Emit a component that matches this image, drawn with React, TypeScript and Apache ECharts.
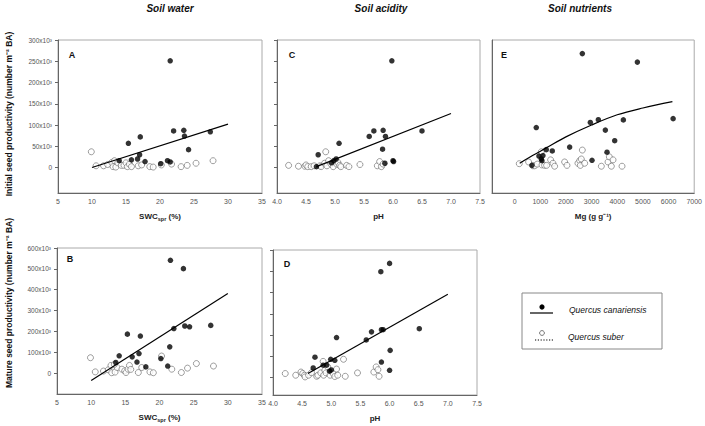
import React, { useEffect, useRef } from "react";
import * as echarts from "echarts";

// Panel A: initial seed productivity vs SWC_spr
const aFilled: number[][] = [[21.5,251],[15.35,57],[17.1,72],[22.0,86],[23.5,87.5],[23.6,74],[27.4,84],[24.2,42],[17.0,30],[16.7,20],[15.8,18],[17.8,14],[14.0,16],[21.1,16],[21.5,13],[20.1,9]];
const aOpen: number[][] = [[9.9,37],[10.6,4],[11.7,4],[12.3,7],[12.9,12],[13.1,2],[13.5,1],[13.3,16],[13.8,11],[14.3,5],[14.7,5],[15.0,11],[15.2,2],[15.5,8],[15.8,2],[16.8,4],[17.3,6],[18.5,2],[19.0,1],[20.2,6],[21.7,8],[23.1,2],[24.0,5],[25.3,10],[27.8,16]];
const aFit: number[][] = [[10,0],[30,102]];

// Panel C: initial seed productivity vs pH
const cFilled: number[][] = [[5.98,251],[5.07,57],[5.59,73],[5.67,86],[5.83,87.5],[5.87,73],[6.5,86],[5.82,43],[4.71,30],[6.0,16],[6.01,14],[5.86,10],[4.68,2],[4.94,11],[4.98,16],[5.02,20]];
const cOpen: number[][] = [[4.2,5],[4.37,3],[4.48,3],[4.5,6],[4.53,2],[4.59,2],[4.64,4],[4.74,4],[4.76,2],[4.82,10],[4.84,37],[4.86,4],[4.89,16],[4.93,8],[4.97,2],[5.03,8],[5.05,12],[5.08,5],[5.1,2],[5.2,5],[5.24,2],[5.43,7],[5.73,4],[5.77,14],[5.8,2],[5.83,8]];
const cFit: number[][] = [[4.68,2],[7.0,127]];

// Panel E: initial seed productivity vs Mg
const eFilled: number[][] = [[2640,268],[4785,248],[845,94],[2952,106],[3264,112.5],[4239,112],[6177,115],[3537,88],[3901,63],[2146,48],[1235,42],[1469,39],[3602,36],[949,27],[1105,28],[1040,20],[1066,16],[3017,17],[676,5]];
const eOpen: number[][] = [[182,9],[546,13],[715,4],[780,4],[884,8],[1040,37],[1066,6],[1170,5],[1248,5],[1404,18],[1495,10],[1560,3],[1950,13],[2041,5],[2470,10],[2536,16],[2562,5],[2600,20],[2640,41],[2731,10],[3381,3],[3641,13],[3693,25],[3836,18],[3771,3],[4187,3]];
const eFit: number[][] = [[200,10],[700,28],[1200,45],[2000,72],[3000,100],[4000,124],[5000,140],[6150,155]];

// Panel B: mature seed productivity vs SWC_spr
const bFilled: number[][] = [[21.6,541],[23.5,501],[15.3,187],[17.2,178],[22.1,214],[23.7,226],[24.4,222],[27.5,229],[21.5,126],[14.1,83],[16.0,78],[17.0,94],[13.6,51],[16.7,53],[18.0,30],[20.2,70],[21.2,34]];
const bOpen: number[][] = [[9.9,74],[10.6,6],[11.8,10],[12.5,16],[12.9,37],[13.0,2],[13.5,5],[13.8,27],[13.4,42],[14.5,19],[14.9,11],[15.1,3],[15.4,19],[15.6,37],[15.8,18],[16.9,3],[17.4,27],[18.6,6],[19.1,2],[20.3,82],[21.8,19],[23.2,3],[24.1,24],[25.4,46],[27.9,34]];
const bFit: number[][] = [[10,-35],[30,382]];

// Panel D: mature seed productivity vs pH
const dFilled: number[][] = [[6.0,537],[5.85,498],[6.51,230],[5.86,225],[5.89,225],[5.69,215],[5.6,177],[5.09,188],[6.01,128],[5.86,73],[6.0,34],[4.72,96],[4.69,45],[4.86,58],[4.92,58],[4.99,86],[5.06,81],[4.97,30],[5.0,36]];
const dOpen: number[][] = [[4.21,19],[4.39,11],[4.48,26],[4.51,19],[4.54,11],[4.55,3],[4.61,11],[4.66,23],[4.75,6],[4.77,11],[4.82,22],[4.86,76],[4.87,11],[4.89,34],[4.91,22],[4.94,50],[4.98,11],[5.03,19],[5.06,5],[5.09,40],[5.11,11],[5.21,86],[5.24,6],[5.45,22],[5.73,26],[5.77,50],[5.8,37],[5.82,6]];
const dFit: number[][] = [[4.6,19],[7.0,392]];

const yTicksTop = [0, 50, 100, 150, 200, 250, 300];
const yTicksBottom = [0, 100, 200, 300, 400, 500, 600];
const mgTicks = [0, 1000, 2000, 3000, 4000, 5000, 6000, 7000];

const FONT = '"Liberation Sans", Arial, sans-serif';
const AXIS_COLOR = "#666";
const LABEL_COLOR = "#555";

export default function App() {
  const ref = useRef<HTMLDivElement>(null);
  useEffect(() => {
    const chart = echarts.init(ref.current!, null, { renderer: "svg" });

    const grids = [
      { left: 58, top: 40, width: 204, height: 153 },  // A
      { left: 277, top: 40, width: 203, height: 153 }, // C
      { left: 492, top: 40, width: 205, height: 153 }, // E
      { left: 57, top: 248, width: 205, height: 146 }, // B
      { left: 273, top: 250, width: 204, height: 145 }, // D
    ].map((g) => ({ ...g, show: true, borderColor: "#aaa", borderWidth: 1, backgroundColor: "transparent" }));

    const subRich = {
      b: { fontWeight: "bold", fontSize: 8, fontFamily: FONT, color: "#222", lineHeight: 10, verticalAlign: "top" },
      s: { fontWeight: "bold", fontSize: 5.5, fontFamily: FONT, color: "#222", lineHeight: 4, verticalAlign: "bottom" },
    };

    const xAxis = (gridIndex: number, min: number, max: number, opts: any, name: string) => ({
      type: "value",
      gridIndex,
      min,
      max,
      ...opts,
      name,
      nameLocation: "middle",
      nameGap: 19,
      nameTextStyle: { fontWeight: "bold", fontSize: 8, fontFamily: FONT, color: "#222", rich: subRich },
      axisLine: { show: true, onZero: false, lineStyle: { color: AXIS_COLOR, width: 1 } },
      axisTick: { show: false },
      axisLabel: { ...(opts.axisLabel || {}), fontSize: 7, color: LABEL_COLOR, fontFamily: FONT, margin: 5, showMinLabel: true, showMaxLabel: true },
      splitLine: { show: false },
    });

    const yAxis = (gridIndex: number, min: number, max: number, ticks: number[], showLabels: boolean, showTicks: boolean) => ({
      type: "value",
      gridIndex,
      min,
      max,
      axisLine: { show: true, onZero: false, lineStyle: { color: AXIS_COLOR, width: 1 } },
      axisTick: { show: showTicks, customValues: ticks, length: 3, lineStyle: { color: AXIS_COLOR } },
      axisLabel: {
        show: showLabels,
        customValues: ticks,
        fontSize: 6.5,
        color: LABEL_COLOR,
        fontFamily: FONT,
        margin: 6,
        formatter: (v: number) => (v === 0 ? "0" : `${v}x10³`),
      },
      splitLine: { show: false },
    });

    const scatterFilled = (i: number, data: number[][]) => ({
      type: "scatter", xAxisIndex: i, yAxisIndex: i, data, symbol: "circle", symbolSize: 5.5,
      itemStyle: { color: "#000" }, z: 4,
    });
    const scatterOpen = (i: number, data: number[][]) => ({
      type: "scatter", xAxisIndex: i, yAxisIndex: i, data, symbol: "circle", symbolSize: 6,
      itemStyle: { color: "#fff", borderColor: "#666", borderWidth: 0.8 }, z: 3,
    });
    const fitLine = (i: number, data: number[][], smooth: any = false) => ({
      type: "line", xAxisIndex: i, yAxisIndex: i, data, symbol: "none", smooth,
      lineStyle: { color: "#000", width: 1.2 }, z: 5,
    });

    const pHFmt = { interval: 0.5, axisLabel: { formatter: (v: number) => v.toFixed(1) } };
    const swcFmt = { interval: 5 };
    const swcName = "{b|SWC}{s|spr}{b| (%)}";

    const txt = (text: string, x: number, y: number, extra: any = {}) => ({
      type: "text",
      x, y,
      ...(extra.rotation !== undefined ? { rotation: extra.rotation } : {}),
      style: {
        text,
        fontFamily: FONT,
        fontSize: extra.fontSize ?? 9,
        fontWeight: extra.fontWeight ?? "normal",
        fontStyle: extra.fontStyle ?? "normal",
        fill: extra.fill ?? "#111",
        align: extra.align ?? "center",
        verticalAlign: "middle",
      },
    });

    const option: any = {
      animation: false,
      backgroundColor: "#fff",
      grid: grids,
      xAxis: [
        xAxis(0, 5, 35, swcFmt, swcName),
        xAxis(1, 4, 7.5, pHFmt, "pH"),
        xAxis(2, -880, 7000, { axisLabel: { customValues: mgTicks, formatter: (v: number) => String(v) } }, "Mg (g g⁻¹)"),
        xAxis(3, 5, 35, swcFmt, swcName),
        xAxis(4, 4, 7.5, pHFmt, "pH"),
      ],
      yAxis: [
        yAxis(0, -60, 300, yTicksTop, true, true),
        yAxis(1, -60, 300, yTicksTop, false, true),
        yAxis(2, -60, 300, yTicksTop, false, false),
        yAxis(3, -100, 600, yTicksBottom, true, true),
        yAxis(4, -82, 600, yTicksBottom, false, true),
      ],
      series: [
        scatterOpen(0, aOpen), scatterFilled(0, aFilled), fitLine(0, aFit),
        scatterOpen(1, cOpen), scatterFilled(1, cFilled), fitLine(1, cFit),
        scatterOpen(2, eOpen), scatterFilled(2, eFilled), fitLine(2, eFit, 0.35),
        scatterOpen(3, bOpen), scatterFilled(3, bFilled), fitLine(3, bFit),
        scatterOpen(4, dOpen), scatterFilled(4, dFilled), fitLine(4, dFit),
      ],
      graphic: [
        txt("Soil water", 170, 8, { fontSize: 10, fontWeight: "bold", fontStyle: "italic" }),
        txt("Soil acidity", 381, 8, { fontSize: 10, fontWeight: "bold", fontStyle: "italic" }),
        txt("Soil nutrients", 580, 8, { fontSize: 10, fontWeight: "bold", fontStyle: "italic" }),
        txt("Initial seed productivity (number m⁻² BA)", 9, 114, { fontSize: 8.5, fontWeight: "bold", rotation: Math.PI / 2 }),
        txt("Mature seed productivity (number m⁻² BA)", 9, 303, { fontSize: 8.5, fontWeight: "bold", rotation: Math.PI / 2 }),
        txt("A", 72, 55, { fontSize: 9, fontWeight: "bold", align: "center" }),
        txt("C", 292, 55, { fontSize: 9, fontWeight: "bold", align: "center" }),
        txt("E", 504, 55, { fontSize: 9, fontWeight: "bold", align: "center" }),
        txt("B", 70, 259, { fontSize: 9, fontWeight: "bold", align: "center" }),
        txt("D", 287, 264, { fontSize: 9, fontWeight: "bold", align: "center" }),
        // legend
        { type: "rect", shape: { x: 522, y: 293, width: 140, height: 56 }, style: { fill: "#fff", stroke: "#888", lineWidth: 1 } },
        { type: "circle", shape: { cx: 542, cy: 307, r: 2.6 }, style: { fill: "#000" } },
        { type: "line", shape: { x1: 530, y1: 313, x2: 553, y2: 313 }, style: { stroke: "#000", lineWidth: 1.2 } },
        txt("Quercus canariensis", 569, 310, { fontSize: 8.5, fontStyle: "italic", align: "left" }),
        { type: "circle", shape: { cx: 542, cy: 333, r: 2.4 }, style: { fill: "#fff", stroke: "#555", lineWidth: 0.8 } },
        { type: "line", shape: { x1: 535, y1: 340, x2: 553, y2: 340 }, style: { stroke: "#000", lineWidth: 1.2, lineDash: [1.2, 1.6] } },
        txt("Quercus suber", 568, 337, { fontSize: 8.5, fontStyle: "italic", align: "left" }),
      ],
    };

    chart.setOption(option);
    return () => chart.dispose();
  }, []);

  return <div ref={ref} style={{ position: "absolute", left: 0, top: 0, width: 705, height: 426 }} />;
}
